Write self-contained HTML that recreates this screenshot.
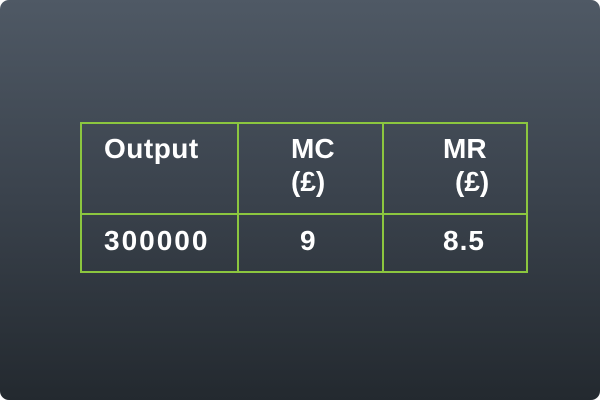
<!DOCTYPE html>
<html><head><meta charset="utf-8"><style>
html,body{margin:0;padding:0;background:#fff;}
#bg{position:absolute;left:0;top:0;width:600px;height:400px;border-radius:9px;background:linear-gradient(#4f5965,#3a424c 50%,#23292f);overflow:hidden;}
.t{position:absolute;color:#fff;font-family:"Liberation Sans",sans-serif;font-weight:bold;font-size:28px;line-height:32px;white-space:nowrap;}
.b{position:absolute;background:#8cc63f;}
</style></head><body>
<div id="bg">
<div>
<div class="b" style="left:80px;top:122px;width:448px;height:2px"></div>
<div class="b" style="left:80px;top:213px;width:448px;height:2px"></div>
<div class="b" style="left:80px;top:271px;width:448px;height:2px"></div>
<div class="b" style="left:80px;top:122px;width:2px;height:151px"></div>
<div class="b" style="left:237px;top:122px;width:2px;height:151px"></div>
<div class="b" style="left:382px;top:122px;width:2px;height:151px"></div>
<div class="b" style="left:526px;top:122px;width:2px;height:151px"></div>
<div class="t" style="left:104px;top:133px;letter-spacing:0.5px">Output</div>
<div class="t" style="left:291px;top:133px">MC</div>
<div class="t" style="left:291px;top:166px">(£)</div>
<div class="t" style="left:443px;top:133px">MR</div>
<div class="t" style="left:455px;top:166px">(£)</div>
<div class="t" style="left:104px;top:225px;letter-spacing:2px">300000</div>
<div class="t" style="left:300px;top:225px">9</div>
<div class="t" style="left:443px;top:225px;letter-spacing:1px">8.5</div>
</div>
</div>
</body></html>
